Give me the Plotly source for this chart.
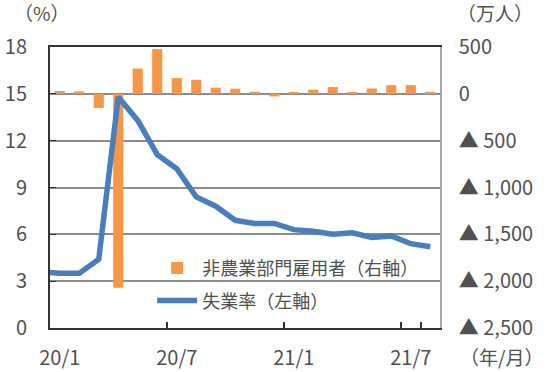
import plotly.graph_objects as go

# Data
months = ["19/12", "20/1", "20/2", "20/3", "20/4", "20/5", "20/6", "20/7", "20/8", "20/9",
          "20/10", "20/11", "20/12", "21/1", "21/2", "21/3", "21/4", "21/5", "21/6",
          "21/7", "21/8"]
payroll_months = months[1:]
payroll = [30, 25, -150, -2070, 270, 478, 168, 150, 66, 55, 22, -28,
           20, 45, 72, 20, 57, 93, 93, 22]          # 万人, right axis
unemp = [3.6, 3.5, 3.5, 4.4, 14.8, 13.3, 11.1, 10.2, 8.4, 7.8, 6.9, 6.7, 6.7,
         6.3, 6.2, 6.0, 6.1, 5.8, 5.9, 5.4, 5.2]    # %, left axis
x_tickvals = ["20/1", "20/7", "21/1", "21/7"]
left_ticks = [0, 3, 6, 9, 12, 15, 18]
right_tickvals = [500, 0, -500, -1000, -1500, -2000, -2500]
right_ticktext = ["500", "0", "▲ 500", "▲ 1,000", "▲ 1,500", "▲ 2,000", "▲ 2,500"]

FONT = "Noto Sans CJK JP"
TXT = "#505050"
ORANGE = "#F79646"
BLUE = "#4A7EBB"
FS = 20
LFS = 18

fig = go.Figure()
fig.add_trace(go.Bar(
    x=payroll_months, y=payroll, name="非農業部門雇用者（右軸）",
    marker=dict(color=ORANGE, line=dict(width=0)),
    yaxis="y", legendgroup="a",
))
fig.add_trace(go.Scatter(
    x=months, y=unemp, name="失業率（左軸）", mode="lines",
    line=dict(color=BLUE, width=5.5),
    yaxis="y2", legendgroup="b",
))

fig.update_layout(
    width=550, height=372,
    margin=dict(l=50, r=110, t=47, b=44, autoexpand=False),
    paper_bgcolor="white", plot_bgcolor="white",
    font=dict(family=FONT, size=FS, color=TXT),
    bargap=0.48,
    showlegend=True,
    legend=dict(x=0.262, y=0.278, xanchor="left", yanchor="top",
                bgcolor="rgba(0,0,0,0)", font=dict(size=LFS, color=TXT),
                traceorder="grouped", tracegroupgap=6, itemwidth=40),
    xaxis=dict(
        type="category", categoryorder="array", categoryarray=months,
        range=[0.5, 20.5], tickvals=x_tickvals, ticktext=x_tickvals,
        tickson="boundaries", ticks="inside", ticklen=6, tickwidth=1.5,
        tickcolor="#333333", showgrid=False, tickangle=0, automargin=False,
        showline=True, linecolor="#333333", linewidth=2, mirror=True,
        ticklabelstandoff=11, zeroline=False,
    ),
    yaxis=dict(
        side="right", range=[-2500, 500], tickvals=right_tickvals,
        ticktext=right_ticktext, ticks="", ticklabelstandoff=13, automargin=False,
        showgrid=True, gridcolor="#8c8c8c", gridwidth=1.5,
        zeroline=False, showline=True, linecolor="#a6a6a6", linewidth=1.5,
    ),
    yaxis2=dict(
        overlaying="y", side="left", range=[0, 18], tickvals=left_ticks,
        ticks="inside", ticklen=6, tickcolor="#333333", showgrid=False,
        zeroline=False, showline=True, linecolor="#333333", linewidth=2,
        ticklabelstandoff=17, automargin=False,
    ),
    annotations=[
        dict(text="（%）", xref="paper", yref="paper", x=0.0, y=1.0,
             xanchor="center", yanchor="middle", xshift=-8, yshift=35,
             showarrow=False, font=dict(size=19, color=TXT)),
        dict(text="（万人）", xref="paper", yref="paper", x=1.0, y=1.0,
             xanchor="center", yanchor="middle", xshift=55, yshift=35,
             showarrow=False, font=dict(size=19, color=TXT)),
        dict(text="（年/月）", xref="paper", yref="paper", x=1.0, y=0.0,
             xanchor="center", yanchor="middle", xshift=61, yshift=-28,
             showarrow=False, font=dict(size=19, color=TXT)),
    ],
)

fig.write_html("out.html", config={"displayModeBar": False},
               post_script="document.body.style.margin='0px';")
